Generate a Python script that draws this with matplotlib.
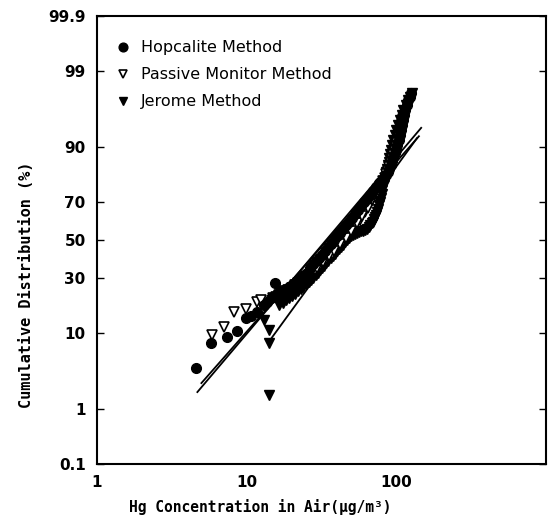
import numpy as np
import matplotlib
matplotlib.use('Agg')
import matplotlib.pyplot as plt
from matplotlib.ticker import NullLocator
from statistics import NormalDist

# 採樣資料 (濃度 ug/m3, 累積分佈 %)
hop_x = [4.6, 5.8, 7.4, 8.6, 9.9, 10.8, 11.8, 13.0, 13.8, 15.4,
         14.7, 16.1, 17.6, 19.3, 21.2, 23.3, 25.5, 27.9, 30.6, 33.5,
         36.7, 40.3, 44.1, 48.6, 53.2, 58.3, 63.8, 70.0, 77.0, 83.0,
         88.0, 92.6, 96.0, 100.0, 104.0, 107.0, 111.0, 115.0, 120.0, 126.0,
         15.5, 16.8, 18.4, 20.2, 22.2, 24.4, 26.7, 29.2, 32.0, 35.1,
         38.5, 42.2, 46.3, 50.9, 55.7, 61.0, 66.9, 73.5, 80.0, 85.5,
         90.3, 94.3, 98.0, 102.0, 105.5, 109.0, 113.0, 117.5, 123.0]
hop_p = [3.9, 7.8, 9.0, 10.5, 14.1, 14.7, 16.0, 18.5, 19.6, 27.7,
         21.2, 22.8, 24.1, 25.8, 27.7, 30.0, 32.5, 36.8, 40.0, 44.0,
         48.0, 52.0, 56.0, 60.0, 64.0, 68.0, 71.5, 75.0, 78.5, 80.5,
         82.6, 85.0, 87.5, 89.3, 91.6, 93.5, 95.1, 96.4, 97.3, 97.9,
         22.0, 23.5, 25.0, 26.8, 28.8, 31.2, 34.8, 38.5, 42.0, 46.0,
         50.0, 54.0, 58.0, 62.0, 66.0, 69.8, 73.3, 76.8, 79.5, 81.6,
         83.8, 86.3, 88.4, 90.5, 92.6, 94.3, 95.8, 96.9, 97.6]

pas_x = [5.9, 7.1, 8.3, 10.0, 11.7, 12.5,
         15.0, 16.5, 18.0, 20.0, 22.0, 24.0, 26.0, 28.5, 31.0, 34.0,
         37.0, 40.0, 44.0, 48.0, 52.0, 57.0, 62.0, 67.0, 72.0, 77.0,
         80.0, 84.0, 88.0, 92.0, 96.0, 100.0, 104.0, 108.0, 112.0,
         15.7, 17.2, 19.0, 21.0, 23.0, 25.0, 27.2, 29.7, 32.5, 35.5,
         38.5, 42.0, 46.0, 50.0, 54.5, 59.5, 64.5, 69.5, 74.5, 78.5,
         82.0, 86.0, 90.0, 94.0, 98.0, 102.0, 106.0, 110.0]
pas_p = [9.5, 11.5, 16.0, 17.1, 19.6, 20.4,
         21.0, 22.5, 24.0, 25.5, 27.5, 29.5, 31.5, 34.0, 36.5, 39.5,
         42.5, 46.0, 49.5, 53.0, 57.0, 61.0, 65.0, 69.0, 72.5, 75.5,
         78.0, 80.5, 83.0, 85.5, 88.0, 90.0, 92.0, 93.8, 95.2,
         21.7, 23.2, 24.7, 26.5, 28.5, 30.5, 32.7, 35.2, 38.0, 41.0,
         44.2, 47.7, 51.2, 55.0, 59.0, 63.0, 67.0, 70.8, 74.0, 76.8,
         79.2, 81.8, 84.2, 86.8, 89.0, 91.0, 92.9, 94.5]

jer_x = [14.2, 14.2, 14.2, 13.0,
         16.6, 18.5, 20.0, 22.0, 24.0, 26.0, 28.0, 30.0, 32.0, 34.0,
         36.7, 39.0, 41.7, 44.0, 47.0, 50.0, 53.0, 56.7, 60.0, 63.8,
         67.0, 70.0, 72.0, 74.6, 77.0, 79.4, 81.0, 84.0, 86.0, 88.0,
         90.0, 92.6, 95.7, 100.0, 106.0, 112.0, 120.0, 128.0,
         17.5, 19.2, 21.0, 23.0, 25.0, 27.0, 29.0, 31.0, 33.0, 35.3,
         37.8, 40.3, 42.8, 45.5, 48.5, 51.5, 54.8, 58.3, 62.0, 65.4,
         68.5, 71.0, 73.3, 75.8, 78.2, 80.2, 82.5, 85.0, 87.0, 89.0,
         91.3, 94.1, 97.8, 103.0, 109.0, 116.0, 124.0]
jer_p = [1.6, 7.8, 10.7, 13.5,
         18.5, 20.4, 22.0, 24.0, 26.0, 28.0, 30.0, 32.5, 35.0, 37.5,
         40.0, 42.5, 45.0, 47.5, 50.0, 52.2, 53.5, 54.4, 55.0, 56.0,
         58.0, 60.0, 62.5, 65.0, 68.5, 72.0, 75.5, 79.6, 82.6, 84.9,
         87.0, 89.3, 91.6, 93.5, 95.1, 96.4, 97.3, 97.9,
         19.4, 21.2, 23.0, 25.0, 27.0, 29.0, 31.2, 33.7, 36.2, 38.7,
         41.2, 43.7, 46.2, 48.7, 51.1, 52.8, 54.0, 54.7, 55.5, 57.0,
         59.0, 61.2, 63.7, 66.7, 70.2, 73.7, 77.5, 81.1, 83.8, 86.0,
         88.2, 90.5, 92.6, 94.3, 95.8, 96.9, 97.6]

# 對數常態迴歸線: 幾何平均, 幾何標準差, 範圍
fit_gm = [34.1, 34.8, 44.1]
fit_gsd = [2.57, 2.67, 2.25]
fit_lo = [4.7, 5.0, 14.7]
fit_hi = [147.0, 142.0, 138.0]

labels = ['Hopcalite Method', 'Passive Monitor Method', 'Jerome Method']
ytick_vals = [0.1, 1, 10, 30, 50, 70, 90, 99, 99.9]
ytick_labels = ['0.1', '1', '10', '30', '50', '70', '90', '99', '99.9']
xtick_vals = [1, 10, 100]
xtick_labels = ['1', '10', '100']

nd = NormalDist()

def prob_fwd(p):
    p = np.clip(np.asarray(p, dtype=float) / 100.0, 1e-6, 1 - 1e-6)
    return np.vectorize(nd.inv_cdf, otypes=[float])(p)

def prob_inv(z):
    return np.vectorize(nd.cdf, otypes=[float])(np.asarray(z, dtype=float)) * 100.0

fig = plt.figure(figsize=(5.53, 5.2), dpi=100)
ax = fig.add_axes([0.175, 0.108, 0.812, 0.861])
ax.set_xscale('log')
ax.set_yscale('function', functions=(prob_fwd, prob_inv))

# 迴歸線
for gm, gsd, lo, hi in zip(fit_gm, fit_gsd, fit_lo, fit_hi):
    xs = np.geomspace(lo, hi, 60)
    ps = prob_inv((np.log10(xs) - np.log10(gm)) / np.log10(gsd))
    ax.plot(xs, ps, color='black', lw=1.3)

ax.plot(jer_x, jer_p, 'v', color='black', ms=7, label=labels[2])
ax.plot(pas_x, pas_p, 'v', mfc='white', mec='black', mew=1.2, ms=7, label=labels[1])
ax.plot(hop_x, hop_p, 'o', color='black', ms=7, label=labels[0])

ax.set_xlim(1, 1000)
ax.set_ylim(0.1, 99.9)
ax.set_xticks(xtick_vals)
ax.set_xticklabels(xtick_labels)
ax.xaxis.set_minor_locator(NullLocator())
ax.set_yticks(ytick_vals)
ax.set_yticklabels(ytick_labels)
ax.yaxis.set_minor_locator(NullLocator())
ax.tick_params(axis='x', length=0, pad=8, labelsize=11)
ax.tick_params(axis='y', direction='in', length=5, width=1, right=True,
               labelsize=11, pad=8)
for lab in ax.get_xticklabels() + ax.get_yticklabels():
    lab.set_fontweight('bold')
for s in ax.spines.values():
    s.set_linewidth(1.5)

ax.set_ylabel('Cumulative Distribution (%)', family='DejaVu Sans Mono',
              fontsize=11, fontweight='bold')
ax.yaxis.set_label_coords(-0.14, 0.40)
ax.set_xlabel('Hg Concentration in Air(\u00b5g/m\u00b3)', family='DejaVu Sans Mono',
              fontsize=10.5, fontweight='bold')
ax.xaxis.set_label_coords(0.365, -0.078)

h, l = ax.get_legend_handles_labels()
leg = ax.legend(h[::-1], l[::-1], loc='upper left', bbox_to_anchor=(0.005, 0.978),
                frameon=False, fontsize=11.5, labelspacing=0.75, handletextpad=0.5,
                handlelength=1.2, markerscale=0.9)

plt.savefig('out.png', dpi=100)
